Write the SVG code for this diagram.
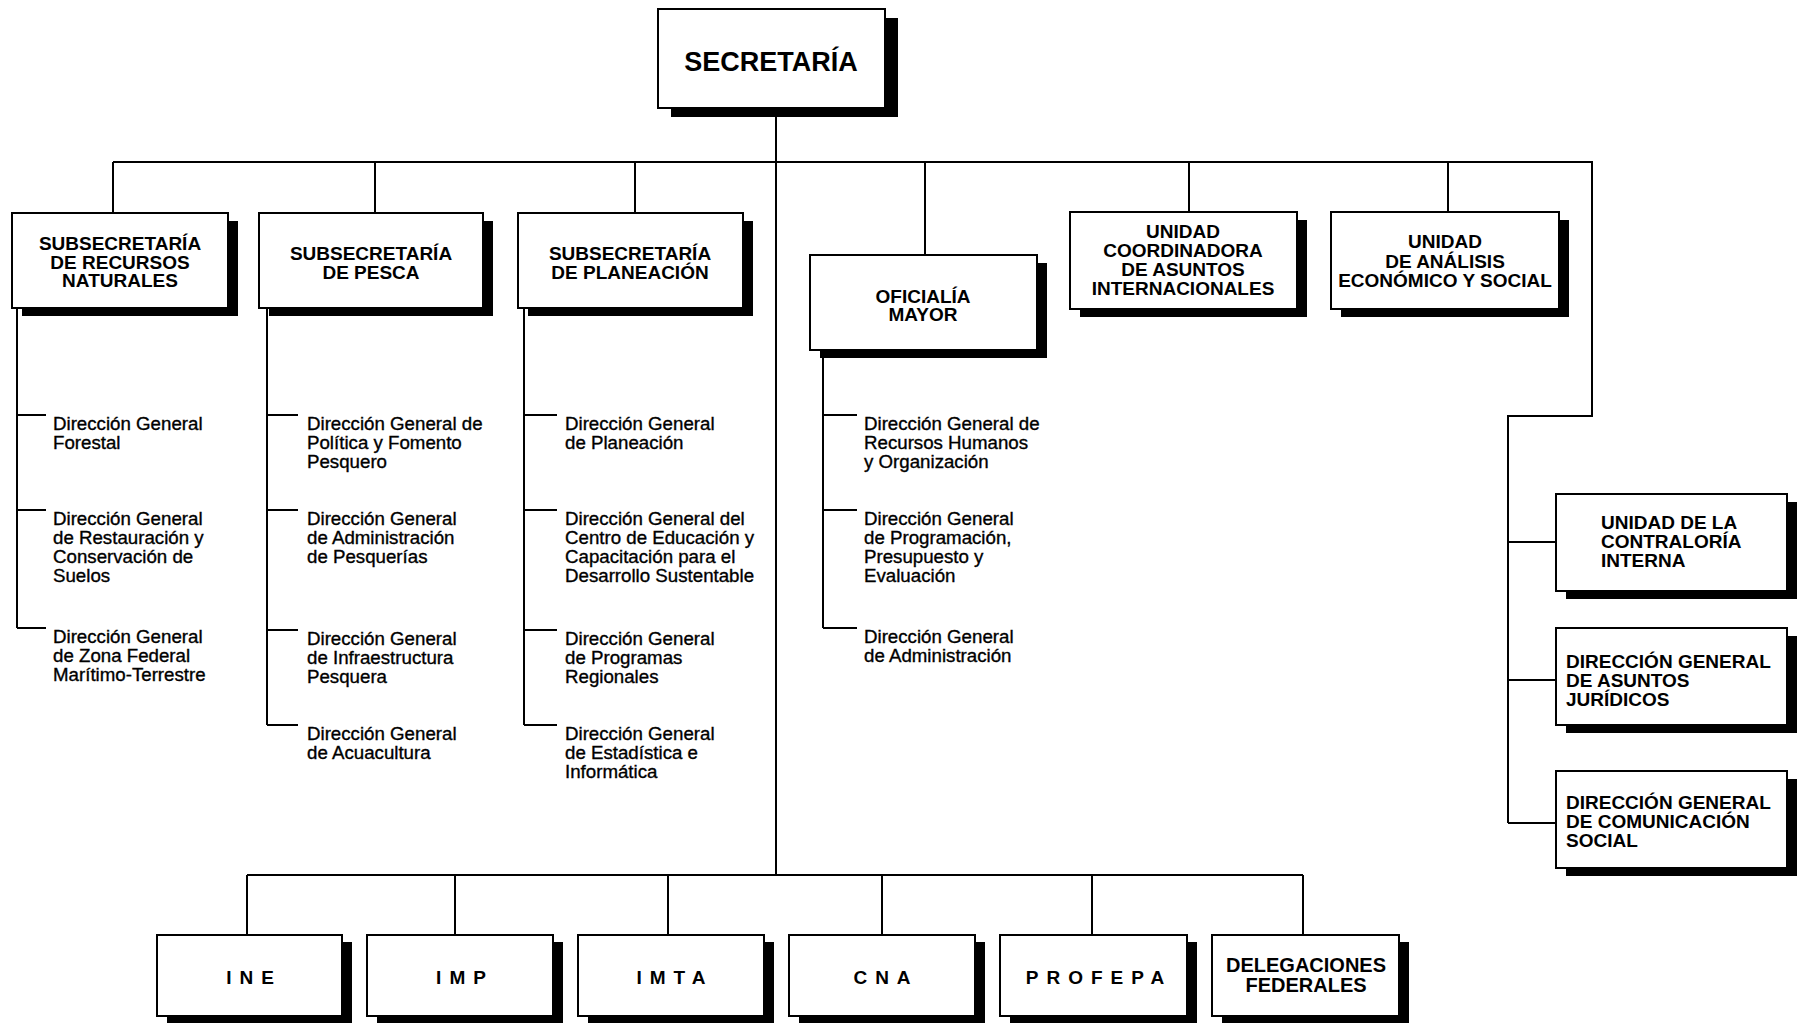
<svg xmlns="http://www.w3.org/2000/svg" width="1798" height="1023" viewBox="0 0 1798 1023">
<style>
.bg{fill:#fff}
.box{fill:#fff;stroke:#000;stroke-width:2}
.sh{fill:#000}
.c{fill:none;stroke:#000;stroke-width:2}
.h{font-family:"Liberation Sans",Arial,sans-serif;font-weight:bold;font-size:19px;text-anchor:middle;fill:#000}
.hl{font-family:"Liberation Sans",Arial,sans-serif;font-weight:bold;font-size:19px;text-anchor:start;fill:#000}
.big{font-size:27px}
.ls{letter-spacing:8px}
.t{font-family:"Liberation Sans",Arial,sans-serif;font-size:18.7px;fill:#000;stroke:#000;stroke-width:0.35}
</style>
<rect class="bg" x="0" y="0" width="1798" height="1023"/>

<g id="connectors">
  <path class="c" d="M776,108 V875"/>
  <path class="c" d="M113,162 H1592 V416 H1508 V823"/>
  <path class="c" d="M113,162 V213 M375,162 V213 M635,162 V213 M925,162 V255 M1189,162 V212 M1448,162 V212"/>
  <path class="c" d="M1508,542 H1556 M1508,680 H1556 M1508,823 H1556"/>
  <path class="c" d="M247,875 H1303 M247,875 V935 M455,875 V935 M668,875 V935 M882,875 V935 M1092,875 V935 M1303,875 V935"/>
  <path class="c" d="M17,308 V628 M17,415 H46 M17,510 H46 M17,628 H46"/>
  <path class="c" d="M267,308 V725 M267,415 H298 M267,510 H298 M267,630 H298 M267,725 H298"/>
  <path class="c" d="M524,308 V725 M524,415 H557 M524,510 H557 M524,630 H557 M524,725 H557"/>
  <path class="c" d="M823,350 V628 M823,415 H857 M823,510 H857 M823,628 H857"/>
</g>

<g id="secretaria">
  <rect class="sh" x="671" y="18" width="227" height="99"/>
  <rect class="box" x="658" y="9" width="227" height="99"/>
  <text class="h big" x="771" y="71">SECRETARÍA</text>
</g>

<g id="subsecretaria-recursos-naturales">
  <rect class="sh" x="22" y="221" width="216" height="95"/>
  <rect class="box" x="12" y="213" width="216" height="95"/>
  <text class="h" x="120" y="250">SUBSECRETARÍA<tspan x="120" dy="18.5">DE RECURSOS</tspan><tspan x="120" dy="18.5">NATURALES</tspan></text>
</g>

<g id="subsecretaria-pesca">
  <rect class="sh" x="269" y="221" width="224" height="95"/>
  <rect class="box" x="259" y="213" width="224" height="95"/>
  <text class="h" x="371" y="260">SUBSECRETARÍA<tspan x="371" dy="19">DE PESCA</tspan></text>
</g>

<g id="subsecretaria-planeacion">
  <rect class="sh" x="528" y="221" width="225" height="95"/>
  <rect class="box" x="518" y="213" width="225" height="95"/>
  <text class="h" x="630" y="260">SUBSECRETARÍA<tspan x="630" dy="19">DE PLANEACIÓN</tspan></text>
</g>

<g id="oficialia-mayor">
  <rect class="sh" x="820" y="263" width="227" height="95"/>
  <rect class="box" x="810" y="255" width="227" height="95"/>
  <text class="h" x="923" y="303">OFICIALÍA<tspan x="923" dy="18">MAYOR</tspan></text>
</g>

<g id="unidad-coordinadora">
  <rect class="sh" x="1080" y="220" width="227" height="97"/>
  <rect class="box" x="1070" y="212" width="227" height="97"/>
  <text class="h" x="1183" y="238">UNIDAD<tspan x="1183" dy="19">COORDINADORA</tspan><tspan x="1183" dy="19">DE ASUNTOS</tspan><tspan x="1183" dy="19">INTERNACIONALES</tspan></text>
</g>

<g id="unidad-analisis">
  <rect class="sh" x="1341" y="220" width="228" height="97"/>
  <rect class="box" x="1331" y="212" width="228" height="97"/>
  <text class="h" x="1445" y="248">UNIDAD<tspan x="1445" dy="19.5">DE ANÁLISIS</tspan><tspan x="1445" dy="19.5">ECONÓMICO Y SOCIAL</tspan></text>
</g>

<g id="contraloria">
  <rect class="sh" x="1566" y="502" width="231" height="97"/>
  <rect class="box" x="1556" y="494" width="231" height="97"/>
  <text class="hl" x="1601" y="529">UNIDAD DE LA<tspan x="1601" dy="19">CONTRALORÍA</tspan><tspan x="1601" dy="19">INTERNA</tspan></text>
</g>

<g id="asuntos-juridicos">
  <rect class="sh" x="1566" y="636" width="231" height="97"/>
  <rect class="box" x="1556" y="628" width="231" height="97"/>
  <text class="hl" x="1566" y="668">DIRECCIÓN GENERAL<tspan x="1566" dy="19">DE ASUNTOS</tspan><tspan x="1566" dy="19">JURÍDICOS</tspan></text>
</g>

<g id="comunicacion-social">
  <rect class="sh" x="1566" y="779" width="231" height="97"/>
  <rect class="box" x="1556" y="771" width="231" height="97"/>
  <text class="hl" x="1566" y="809">DIRECCIÓN GENERAL<tspan x="1566" dy="19">DE COMUNICACIÓN</tspan><tspan x="1566" dy="19">SOCIAL</tspan></text>
</g>

<g id="ine">
  <rect class="sh" x="167" y="942" width="185" height="81"/>
  <rect class="box" x="157" y="935" width="185" height="81"/>
  <text class="h ls" x="254" y="984">INE</text>
</g>
<g id="imp">
  <rect class="sh" x="377" y="942" width="186" height="81"/>
  <rect class="box" x="367" y="935" width="186" height="81"/>
  <text class="h ls" x="465" y="984">IMP</text>
</g>
<g id="imta">
  <rect class="sh" x="588" y="942" width="186" height="81"/>
  <rect class="box" x="578" y="935" width="186" height="81"/>
  <text class="h ls" x="675" y="984">IMTA</text>
</g>
<g id="cna">
  <rect class="sh" x="799" y="942" width="186" height="81"/>
  <rect class="box" x="789" y="935" width="186" height="81"/>
  <text class="h ls" x="886" y="984">CNA</text>
</g>
<g id="profepa">
  <rect class="sh" x="1010" y="942" width="187" height="81"/>
  <rect class="box" x="1000" y="935" width="187" height="81"/>
  <text class="h ls" x="1099" y="984">PROFEPA</text>
</g>
<g id="delegaciones">
  <rect class="sh" x="1222" y="942" width="187" height="81"/>
  <rect class="box" x="1212" y="935" width="187" height="81"/>
  <text class="h" x="1306" y="972" style="font-size:20px">DELEGACIONES<tspan x="1306" dy="20">FEDERALES</tspan></text>
</g>

<g id="dg-forestal"><text class="t" x="53" y="430">Dirección General<tspan x="53" dy="19">Forestal</tspan></text></g>
<g id="dg-restauracion"><text class="t" x="53" y="525">Dirección General<tspan x="53" dy="19">de Restauración y</tspan><tspan x="53" dy="19">Conservación de</tspan><tspan x="53" dy="19">Suelos</tspan></text></g>
<g id="dg-zona-federal"><text class="t" x="53" y="643">Dirección General<tspan x="53" dy="19">de Zona Federal</tspan><tspan x="53" dy="19">Marítimo-Terrestre</tspan></text></g>

<g id="dg-politica-pesquera"><text class="t" x="307" y="430">Dirección General de<tspan x="307" dy="19">Política y Fomento</tspan><tspan x="307" dy="19">Pesquero</tspan></text></g>
<g id="dg-admin-pesquerias"><text class="t" x="307" y="525">Dirección General<tspan x="307" dy="19">de Administración</tspan><tspan x="307" dy="19">de Pesquerías</tspan></text></g>
<g id="dg-infraestructura"><text class="t" x="307" y="645">Dirección General<tspan x="307" dy="19">de Infraestructura</tspan><tspan x="307" dy="19">Pesquera</tspan></text></g>
<g id="dg-acuacultura"><text class="t" x="307" y="740">Dirección General<tspan x="307" dy="19">de Acuacultura</tspan></text></g>

<g id="dg-planeacion"><text class="t" x="565" y="430">Dirección General<tspan x="565" dy="19">de Planeación</tspan></text></g>
<g id="dg-cecadesu"><text class="t" x="565" y="525">Dirección General del<tspan x="565" dy="19">Centro de Educación y</tspan><tspan x="565" dy="19">Capacitación para el</tspan><tspan x="565" dy="19">Desarrollo Sustentable</tspan></text></g>
<g id="dg-programas-regionales"><text class="t" x="565" y="645">Dirección General<tspan x="565" dy="19">de Programas</tspan><tspan x="565" dy="19">Regionales</tspan></text></g>
<g id="dg-estadistica"><text class="t" x="565" y="740">Dirección General<tspan x="565" dy="19">de Estadística e</tspan><tspan x="565" dy="19">Informática</tspan></text></g>

<g id="dg-recursos-humanos"><text class="t" x="864" y="430">Dirección General de<tspan x="864" dy="19">Recursos Humanos</tspan><tspan x="864" dy="19">y Organización</tspan></text></g>
<g id="dg-programacion"><text class="t" x="864" y="525">Dirección General<tspan x="864" dy="19">de Programación,</tspan><tspan x="864" dy="19">Presupuesto y</tspan><tspan x="864" dy="19">Evaluación</tspan></text></g>
<g id="dg-administracion"><text class="t" x="864" y="643">Dirección General<tspan x="864" dy="19">de Administración</tspan></text></g>
</svg>
